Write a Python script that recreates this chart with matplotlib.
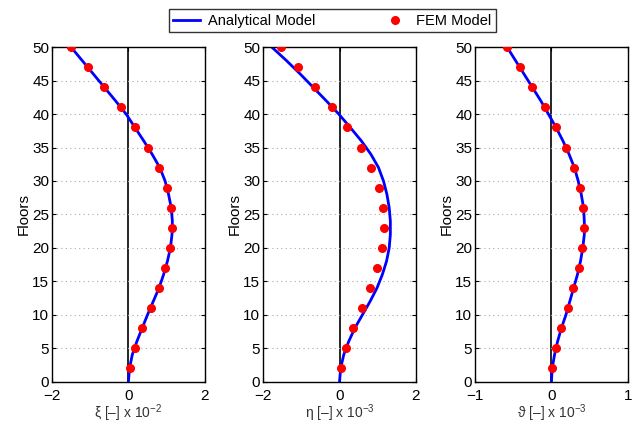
import matplotlib
matplotlib.use("Agg")
import matplotlib.pyplot as plt

plt.rcParams['font.family'] = ['Liberation Sans', 'DejaVu Sans']
plt.rcParams['mathtext.fontset'] = 'custom'
plt.rcParams['mathtext.rm'] = 'Liberation Sans'
plt.rcParams['mathtext.it'] = 'Liberation Sans:italic'

# analytical curve, read every 2 floors
floors_curve = [0, 2, 4, 6, 8, 10, 12, 14, 16, 18, 20, 22, 24,
                26, 28, 30, 32, 34, 36, 38, 40, 42, 44, 46, 48, 50]
xi_curve = [0.0, 0.03, 0.10, 0.22, 0.36, 0.50, 0.65, 0.80, 0.92, 1.02, 1.10, 1.14, 1.15,
            1.12, 1.05, 0.96, 0.82, 0.62, 0.40, 0.17, -0.06, -0.34, -0.63, -0.92, -1.21, -1.50]
eta_curve = [0.0, 0.03, 0.11, 0.24, 0.40, 0.60, 0.80, 0.98, 1.12, 1.23, 1.30, 1.33, 1.33,
             1.30, 1.24, 1.15, 1.02, 0.82, 0.57, 0.28, -0.02, -0.35, -0.69, -1.03, -1.39, -1.77]
theta_curve = [0.0, 0.01, 0.04, 0.08, 0.13, 0.19, 0.24, 0.29, 0.34, 0.38, 0.41, 0.43, 0.43,
               0.42, 0.39, 0.35, 0.30, 0.23, 0.15, 0.06, -0.04, -0.14, -0.25, -0.36, -0.47, -0.58]

# FEM points
floors_fem = [2, 5, 8, 11, 14, 17, 20, 23, 26, 29, 32, 35, 38, 41, 44, 47, 50]
xi_fem = [0.03, 0.16, 0.36, 0.58, 0.80, 0.96, 1.10, 1.15, 1.12, 1.00, 0.80, 0.52, 0.17,
          -0.20, -0.63, -1.07, -1.50]
eta_fem = [0.04, 0.16, 0.36, 0.58, 0.81, 0.99, 1.12, 1.17, 1.14, 1.03, 0.83, 0.55, 0.19,
           -0.20, -0.63, -1.08, -1.53]
theta_fem = [0.01, 0.06, 0.13, 0.22, 0.28, 0.36, 0.40, 0.43, 0.41, 0.37, 0.29, 0.19, 0.06,
             -0.09, -0.25, -0.41, -0.575]

panels = [
    (xi_curve, xi_fem, (-2, 2), [-2, 0, 2], 'ξ [–] x 10$^{-2}$'),
    (eta_curve, eta_fem, (-2, 2), [-2, 0, 2], 'η [–] x 10$^{-3}$'),
    (theta_curve, theta_fem, (-1, 1), [-1, 0, 1], 'ϑ [–] x 10$^{-3}$'),
]

fig = plt.figure(figsize=(6.37, 4.25), dpi=100)
lefts = [0.0816, 0.413, 0.7457]
handles = None
for left, (curve, fem, xlim, xticks, xlabel) in zip(lefts, panels):
    ax = fig.add_axes([left, 0.102, 0.240, 0.787])
    ax.axvline(0, color='black', lw=1.2, zorder=1)
    l1, = ax.plot(curve, floors_curve, color='blue', lw=2, zorder=2,
                  label='Analytical Model')
    l2, = ax.plot(fem, floors_fem, 'o', color='red', ms=5.5, zorder=3,
                  label='FEM Model')
    handles = [l1, l2]
    ax.set_xlim(*xlim)
    ax.set_ylim(0, 50)
    ax.set_xticks(xticks)
    ax.set_yticks(range(0, 51, 5))
    ax.xaxis.set_major_formatter(matplotlib.ticker.FuncFormatter(
        lambda v, p: ('\u2212%d' % abs(v)) if v < 0 else '%d' % v))
    ax.yaxis.grid(True, linestyle=(0, (1, 3)), color='#aaaaaa', lw=0.8)
    ax.tick_params(direction='in', labelsize=11, length=3, top=True, right=True)
    ax.tick_params(axis='x', pad=5)
    ax.tick_params(axis='y', pad=2)
    ax.set_xlabel(xlabel, fontsize=10, color='#333333', labelpad=0)
    ax.set_ylabel('Floors', fontsize=11, labelpad=1)
    for s in ax.spines.values():
        s.set_linewidth(1.0)

leg = fig.legend(handles=handles, loc='upper center', bbox_to_anchor=(0.522, 0.995),
                 ncol=2, fontsize=10.5, frameon=True, fancybox=False, edgecolor='black',
                 handlelength=1.8, columnspacing=4.5, borderpad=0.3, handletextpad=0.6)
leg.get_frame().set_linewidth(1.0)

fig.savefig('out.png', dpi=100)
